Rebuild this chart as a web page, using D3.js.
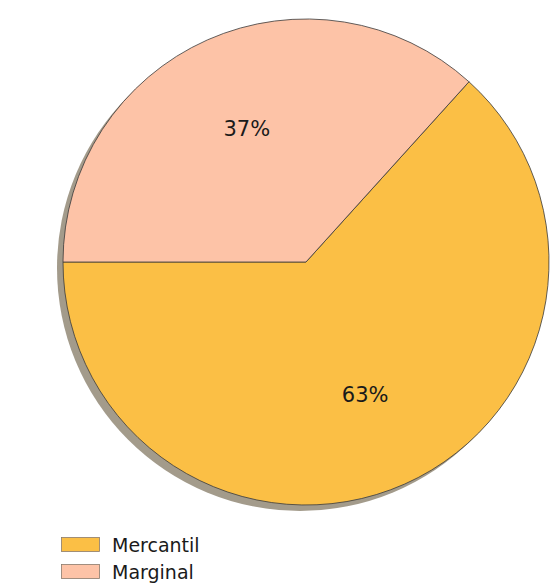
<!DOCTYPE html>
<html><head><meta charset="utf-8">
<script src="https://cdn.jsdelivr.net/npm/d3@7"></script>
<style>body{margin:0;background:#fff}svg{display:block}</style>
</head><body>
<svg id="c" width="555" height="585"></svg>
<script>
const categories = ["Mercantil", "Marginal"];
const values = [63.3, 36.7];
const colors = ["#fbbf45", "#fdc3a7"];

const svg = d3.select("#c");
const cx = 306, cy = 262, r = 243;
const font = "DejaVu Sans, sans-serif";

const data = categories.map((c, i) => ({cat: c, val: values[i], color: colors[i]}));
const total = d3.sum(values);
const toRad = a => a * Math.PI / 180;
let start = 180;
const slices = data.map(d => {
  const sweep = d.val / total * 360;
  const s = {d, a0: start, a1: start + sweep};
  start += sweep;
  return s;
});
const arc = d3.arc().innerRadius(0).outerRadius(r);
const toD3 = a => toRad(90 - a);

const g = svg.append("g").attr("transform", `translate(${cx},${cy})`);
g.append("circle").attr("cx", -6).attr("cy", 6).attr("r", r).attr("fill", "#a39b8b");

g.selectAll("path.s").data(slices).join("path")
  .attr("class", "s")
  .attr("d", s => arc({startAngle: toD3(s.a1), endAngle: toD3(s.a0)}))
  .attr("fill", s => s.d.color)
  .attr("stroke", "#3a3a3a").attr("stroke-width", 0.8).attr("stroke-linejoin", "round");

g.selectAll("text.l").data(slices).join("text")
  .attr("class", "l")
  .attr("x", s => 0.6 * r * Math.cos(toRad((s.a0 + s.a1) / 2)))
  .attr("y", s => -0.6 * r * Math.sin(toRad((s.a0 + s.a1) / 2)))
  .attr("text-anchor", "middle").attr("dominant-baseline", "central")
  .attr("font-family", font).attr("font-size", 21).attr("fill", "#1a1a1a")
  .text(s => d3.format(".0f")(s.d.val / total * 100) + "%");

const lg = svg.append("g").attr("transform", "translate(61,537)");
const items = lg.selectAll("g").data(data).join("g")
  .attr("transform", (d, i) => `translate(0,${i * 27})`);
items.append("rect").attr("x", 0.5).attr("y", 0.5).attr("width", 38).attr("height", 14)
  .attr("fill", d => d.color).attr("stroke", "#8a7a6a").attr("stroke-width", 0.8);
items.append("text").attr("x", 51).attr("y", 8).attr("dominant-baseline", "central")
  .attr("font-family", font).attr("font-size", 19).attr("fill", "#1a1a1a")
  .text(d => d.cat);
</script>
</body></html>
